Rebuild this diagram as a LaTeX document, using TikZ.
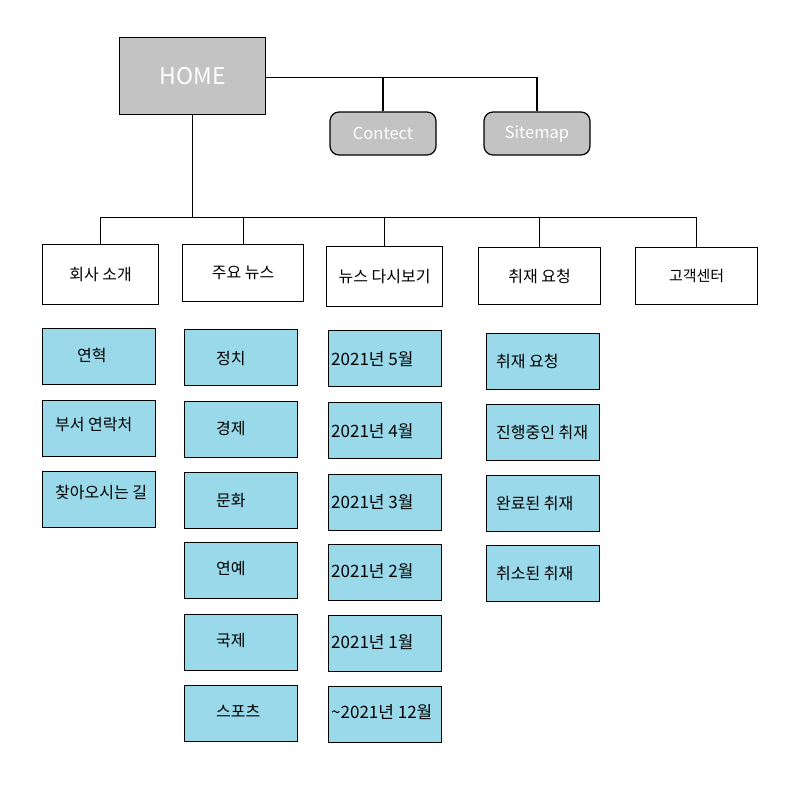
\documentclass[tikz,border=0pt]{standalone}
\usepackage{fontspec}
\setmainfont{Noto Sans CJK KR}
\usetikzlibrary{calc}
\definecolor{boxgray}{RGB}{195,195,195}
\definecolor{leafblue}{RGB}{153,217,234}
\newcommand\leafbox[6]{%
  \node[leaf] (#1) at (#2,#3) {};
  \node[leaftxt] (#1t) at ($(#1.west)+(#4,#5)$) {#6};}
\begin{document}
\begin{tikzpicture}[x=1pt,y=-1pt,
  home/.style={draw, line width=1.2pt, fill=boxgray, text=white, font=\fontsize{23}{27}\selectfont, minimum width=146pt, minimum height=77pt, inner sep=0pt, anchor=north west},
  util/.style={draw, line width=1.2pt, fill=boxgray, text=white, rounded corners=9pt, font=\fontsize{16.5}{19}\selectfont, minimum width=106pt, minimum height=43pt, inner sep=0pt},
  sec/.style={draw, line width=1.2pt, fill=white, font=\fontsize{16}{19}\selectfont, minimum height=57pt, inner sep=0pt, anchor=north west},
  leaf/.style={draw, line width=1.2pt, fill=leafblue, minimum width=113pt, minimum height=56pt, inner sep=0pt, anchor=north west},
  leaftxt/.style={font=\fontsize{16}{19}\selectfont, inner sep=0pt, anchor=west},
  datetxt/.style={font=\fontsize{17}{20}\selectfont},
  link/.style={line width=1.2pt}]
\useasboundingbox (0,0) rectangle (800,800);
\fill[white] (0,0) rectangle (800,800);

% top
\node[home] (home) at (119,37) {HOME};
\node[util] (contect) at (383,133.5) {Contect};
\node[util] (sitemap) at (537,133.5) {Sitemap};
\draw[link] ([yshift=-1.5pt]home.east) -| (contect.north);
\draw[link] ([yshift=-1.5pt]home.east) -| (sitemap.north);

% sections
\node[sec, minimum width=116pt, minimum height=60pt] (s1) at (42,244) {회사 소개};
\node[sec, minimum width=121pt] (s2) at (182,244) {주요 뉴스};
\node[sec, minimum width=116pt, minimum height=60pt] (s3) at (326,246) {뉴스 다시보기};
\node[sec, minimum width=122pt] (s4) at (478,247) {취재 요청};
\node[sec, minimum width=122pt, font=\fontsize{15}{18}\selectfont] (s5) at (635,247) {고객센터};

\coordinate (bus) at ($(home.south)+(0,102)$);
\draw[link] (home.south) -- (bus);
\foreach \s in {s1,s2,s3,s4,s5} \draw[link] (bus) -| (\s.north);

% column 1
\leafbox{a1}{42}{328}{35}{-1}{연혁}
\leafbox{a2}{42}{400}{13}{-4}{부서 연락처}
\leafbox{a3}{42}{471}{13}{-7}{찾아오시는 길}
% column 2
\leafbox{b1}{184}{329}{32}{1}{정치}
\leafbox{b2}{184}{401}{32}{-1}{경제}
\leafbox{b3}{184}{472}{32}{0}{문화}
\leafbox{b4}{184}{542}{32}{-2}{연예}
\leafbox{b5}{184}{614}{32}{-2}{국제}
\leafbox{b6}{184}{685}{32}{-3}{스포츠}
% column 3
\leafbox{c1}{328}{330}{3}{0}{\fontsize{17}{20}\selectfont 2021년 5월}
\leafbox{c2}{328}{402}{3}{0}{\fontsize{17}{20}\selectfont 2021년 4월}
\leafbox{c3}{328}{474}{3}{-1}{\fontsize{17}{20}\selectfont 2021년 3월}
\leafbox{c4}{328}{544}{3}{-2}{\fontsize{17}{20}\selectfont 2021년 2월}
\leafbox{c5}{328}{615}{3}{-2}{\fontsize{17}{20}\selectfont 2021년 1월}
\leafbox{c6}{328}{686}{3}{-3}{\fontsize{17}{20}\selectfont \textasciitilde2021년 12월}
% column 4
\leafbox{d1}{486}{333}{10}{0}{취재 요청}
\leafbox{d2}{486}{404}{10}{0}{진행중인 취재}
\leafbox{d3}{486}{475}{10}{0}{완료된 취재}
\leafbox{d4}{486}{545}{10}{0}{취소된 취재}
\end{tikzpicture}
\end{document}
